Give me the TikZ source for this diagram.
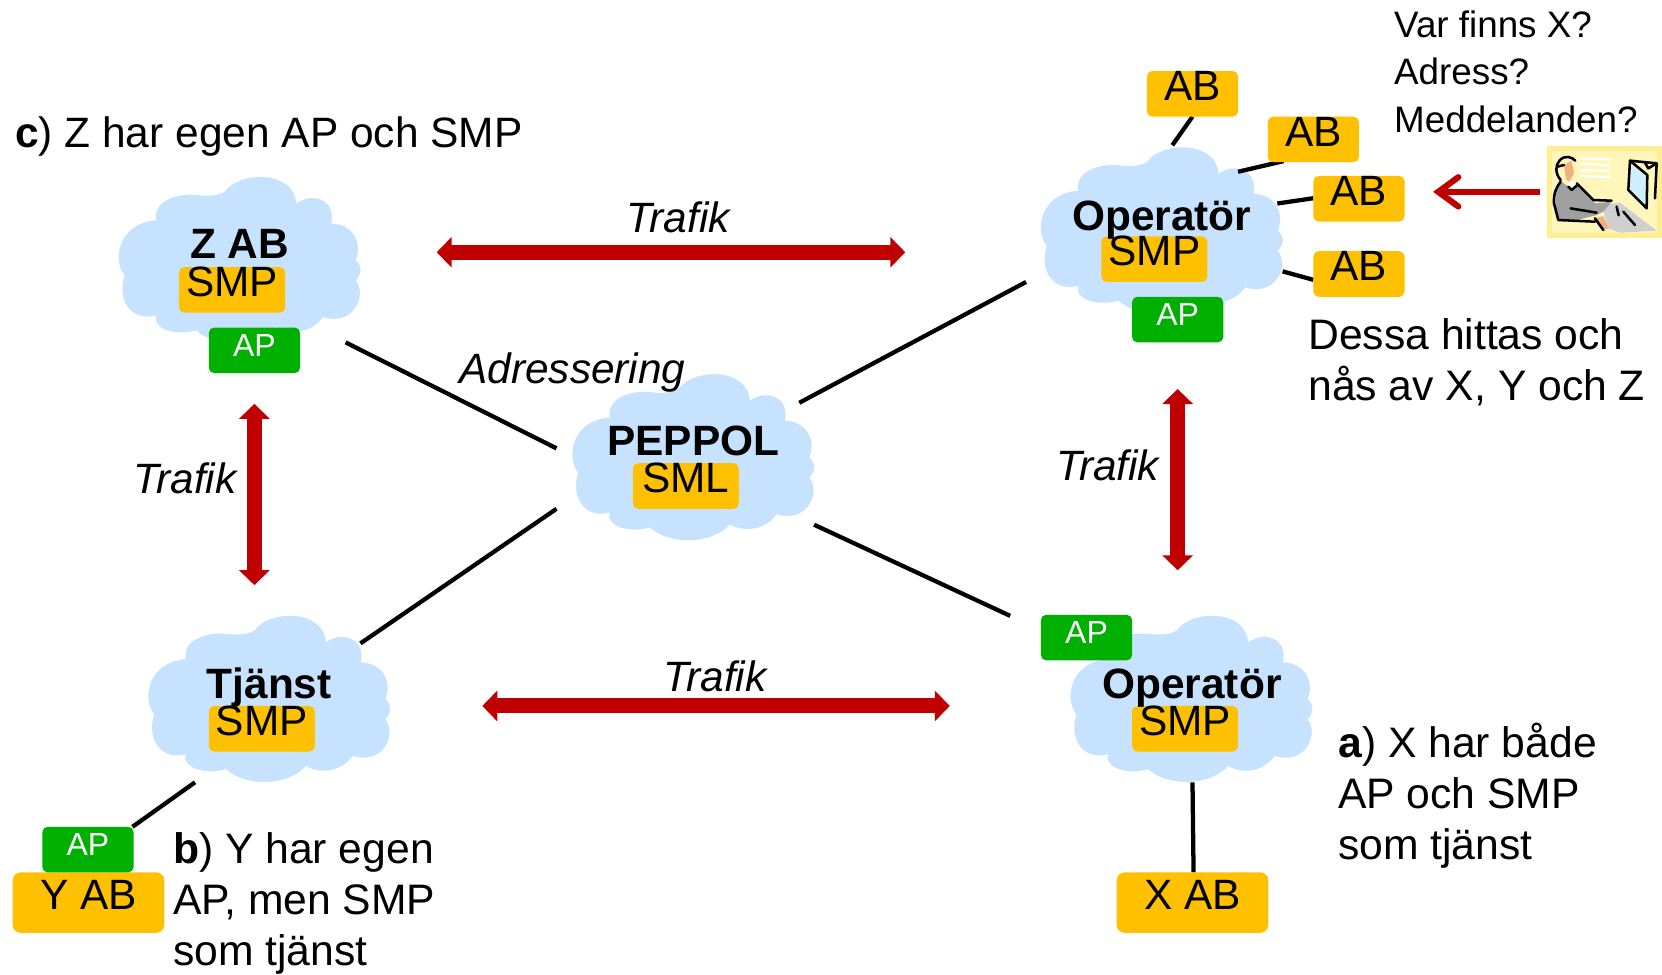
\documentclass[tikz,border=0pt]{standalone}
\usepackage{fontspec}
\setmainfont{Liberation Sans}
\usetikzlibrary{arrows.meta}
\definecolor{cloudblue}{HTML}{C6E2FF}
\definecolor{smporange}{HTML}{FFC000}
\definecolor{apgreen}{HTML}{00B000}
\definecolor{arrowred}{HTML}{C00000}
\definecolor{iconback}{HTML}{FFEE90}
\definecolor{iconpale}{HTML}{FFF6BC}
\definecolor{iconskin}{HTML}{F0B080}
\definecolor{icongray}{HTML}{A0A0A0}
\definecolor{iconkeys}{HTML}{CFCFCF}
\definecolor{iconscreen}{HTML}{CFEFFF}
\newcommand{\cloudat}[2]{%
\begin{scope}[shift={(#1,#2)},x=.25pt,y=-.25pt]
\fill[cloudblue] (-345,50) .. controls (-380,10) and (-370,-105) .. (-250,-115)
 .. controls (-262,-170) and (-190,-200) .. (-120,-190)
 .. controls (-90,-187) and (-65,-190) .. (-45,-200)
 .. controls (0,-265) and (165,-265) .. (170,-165)
 .. controls (215,-200) and (290,-180) .. (275,-105)
 .. controls (340,-105) and (370,-45) .. (348,5)
 .. controls (368,20) and (368,45) .. (348,65)
 .. controls (385,110) and (340,205) .. (250,175)
 .. controls (215,225) and (150,230) .. (110,205)
 .. controls (60,265) and (-70,270) .. (-130,215)
 .. controls (-200,235) and (-265,205) .. (-250,170)
 .. controls (-320,190) and (-370,130) .. (-345,50) -- cycle;
\end{scope}}
\tikzset{
 x=.795pt,y=-.795pt,
 big/.style={font=\fontsize{31.8}{38.2}\selectfont},
 boxbase/.style={rounded corners=4pt,inner xsep=0pt,inner ysep=0pt,text height=22.1pt,text depth=12.1pt,minimum height=34.2pt},
 smpbox/.style={boxbase,fill=smporange,minimum width=79.5pt,big},
 abbox/.style={boxbase,fill=smporange,minimum width=68.4pt,big},
 wideab/.style={rounded corners=6pt,fill=smporange,inner xsep=0pt,inner ysep=0pt,minimum width=113.7pt,minimum height=45.3pt,text height=28pt,text depth=17.3pt,big},
 apbox/.style={rounded corners=4pt,fill=apgreen,text=white,inner xsep=0pt,inner ysep=0pt,minimum width=68.4pt,minimum height=34.2pt,text height=21.5pt,text depth=12.7pt,font=\fontsize{24}{28}\selectfont},
 cloudlabel/.style={font=\fontsize{31.8}{38.2}\selectfont\bfseries,anchor=base,inner sep=0pt},
 note/.style={font=\fontsize{32}{38.2}\selectfont,anchor=base west,inner sep=0pt,align=left},
 smallnote/.style={font=\fontsize{27.6}{35.8}\selectfont,anchor=base west,inner sep=0pt,align=left},
 trafiklabel/.style={font=\fontsize{31.8}{38.2}\selectfont\itshape,anchor=base,inner sep=0pt},
 link/.style={line width=3.2pt,black},
 traffic/.style={line width=11.25pt,arrowred,{Triangle[length=11.25pt,width=22.5pt]}-{Triangle[length=11.25pt,width=22.5pt]}},
 pointer/.style={line width=4.6pt,arrowred,-{Straight Barb[length=15pt,width=22pt,line cap=round]}},
 iconline/.style={black,line width=1.9pt,line cap=round,line join=round}
}
\begin{document}
\begin{tikzpicture}
\useasboundingbox (0,0) rectangle (1567.92,918.87);
% clouds
\cloudat{226}{244}
\cloudat{654}{430}
\cloudat{1096}{216}
\cloudat{254}{658}
\cloudat{1124}{658}
% connector ends
\coordinate (c1a) at (326,323); \coordinate (c1b) at (525,423);
\coordinate (c2a) at (340,607); \coordinate (c2b) at (525,480);
\coordinate (c3a) at (754,380); \coordinate (c3b) at (968,266);
\coordinate (c4a) at (768,495); \coordinate (c4b) at (953,581);
\coordinate (c5a) at (125,780); \coordinate (c5b) at (184,738);
\coordinate (c6a) at (1125,738); \coordinate (c6b) at (1126,823);
\coordinate (d1a) at (1106,137); \coordinate (d1b) at (1125,110);
\coordinate (d2a) at (1168,162); \coordinate (d2b) at (1211,152);
\coordinate (d3a) at (1205,192); \coordinate (d3b) at (1239,187);
\coordinate (d4a) at (1210,256); \coordinate (d4b) at (1239,264);
\foreach \p in {c1,c2,c3,c4,c5,c6,d1,d2,d3,d4}{\draw[link] (\p a) -- (\p b);}
% cloud labels and boxes
\node[smpbox] (zsmp) at (219,273.5) {SMP};
\node[cloudlabel] (zlabel) at (226,244) {Z AB};
\node[apbox] (zap) at (240,330.5) {AP};
\node[smpbox] (sml) at (647,458.5) {SML};
\node[cloudlabel] (pepplabel) at (654,430) {PEPPOL};
\node[smpbox] (op1smp) at (1089,244.5) {SMP};
\node[cloudlabel] (op1label) at (1096,217) {Operatör};
\node[apbox] (op1ap) at (1111,301.5) {AP};
\node[smpbox] (tjsmp) at (247,687.5) {SMP};
\node[cloudlabel] (tjlabel) at (254,658.5) {Tjänst};
\node[smpbox] (op2smp) at (1118,687.5) {SMP};
\node[cloudlabel] (op2label) at (1124.5,658.5) {Operatör};
\node[apbox] (op2ap) at (1025,601.5) {AP};
% AB boxes
\node[abbox] (ab1) at (1125,88.5) {AB};
\node[abbox] (ab2) at (1239,131.5) {AB};
\node[abbox] (ab3) at (1282,187.5) {AB};
\node[abbox] (ab4) at (1282,258.5) {AB};
\node[wideab] (yab) at (83.5,851.5) {Y AB};
\node[apbox] (yap) at (83,801.5) {AP};
\node[wideab] (xab) at (1125,851.5) {X AB};
% traffic arrows
\coordinate (t1a) at (412,238); \coordinate (t1b) at (854,238);
\coordinate (t2a) at (455,666); \coordinate (t2b) at (896,666);
\coordinate (t3a) at (240,381); \coordinate (t3b) at (240,552);
\coordinate (t4a) at (1111,367); \coordinate (t4b) at (1111,538);
\foreach \p in {t1,t2,t3,t4}{\draw[traffic] (\p a) -- (\p b);}
\node[trafiklabel] (tl1) at (640,219) {Trafik};
\node[trafiklabel] (tl2) at (674.5,652) {Trafik};
\node[trafiklabel] (tl3) at (174.5,466) {Trafik};
\node[trafiklabel] (tl4) at (1045,453) {Trafik};
\node[trafiklabel] (adr) at (540,362) {Adressering};
% notes
\node[note,font=\fontsize{31.85}{38.2}\selectfont] (notec) at (14,139) {\textbf{c}) Z har egen AP och SMP};
\node[note] (notea) at (1262,811) {\textbf{a}) X har både\\AP och SMP\\som tjänst};
\node[note] (noteb) at (163,911) {\textbf{b}) Y har egen\\AP, men SMP\\som tjänst};
\node[note] (noted) at (1234,378) {Dessa hittas och\\nås av X, Y och Z};
\node[smallnote] (noteq) at (1315,125) {Var finns X?\\Adress?\\Meddelanden?};
% pointer arrow
\coordinate (icon) at (1453,181);
\coordinate (ptip) at (1352,181);
\draw[pointer] (icon) -- (ptip);
% user icon
\begin{scope}[shift={(1452.8,132.1)},x=.25pt,y=-.25pt]
\fill[iconback] (20,18) rectangle (366,293);
\fill[iconpale] (35,33) rectangle (352,278);
\foreach \yy in {55,72,90,108}{\draw[white,line width=1.6pt] (122,\yy) -- (210,\yy+3);}
\fill[iconkeys] (185,195) -- (240,188) -- (350,272) -- (240,278) -- (205,265) -- cycle;
\fill[icongray] (48,150) -- (65,125) -- (85,140) -- (110,130) -- (150,170) -- (165,190) -- (215,185) -- (190,215) -- (170,225) -- (110,240) -- (60,240) -- (45,210) -- cycle;
\fill[white] (85,125) -- (105,125) -- (110,135) -- (95,150) -- cycle;
\fill[iconskin] (72,75) -- (95,62) -- (102,100) -- (88,125) -- (78,118) -- cycle;
\fill[iconskin] (165,235) -- (190,228) -- (207,265) -- (190,270) -- cycle;
\fill[iconscreen] (275,75) -- (320,105) -- (318,205) -- (270,150) -- cycle;
\draw[iconline] (62,120) .. controls (45,100) and (45,75) .. (60,60) .. controls (75,45) and (95,50) .. (106,62);
\draw[iconline] (52,80) -- (72,75);
\draw[iconline] (62,125) .. controls (50,140) and (40,160) .. (42,190) -- (55,240) -- (165,245);
\draw[iconline] (110,130) -- (160,180) -- (215,182);
\draw[iconline] (92,205) -- (170,218);
\draw[iconline] (85,140) -- (95,150) -- (112,135);
\draw[iconline] (165,235) -- (190,270);
\draw[iconline] (270,62) -- (350,70) -- (345,175);
\draw[iconline] (270,62) -- (265,150) -- (320,205) -- (322,105) -- (270,62);
\draw[iconline] (315,68) -- (325,85) -- (350,70);
\draw[iconline] (230,200) -- (236,226);
\draw[iconline] (250,215) -- (285,255);
\end{scope}
\end{tikzpicture}
\end{document}
